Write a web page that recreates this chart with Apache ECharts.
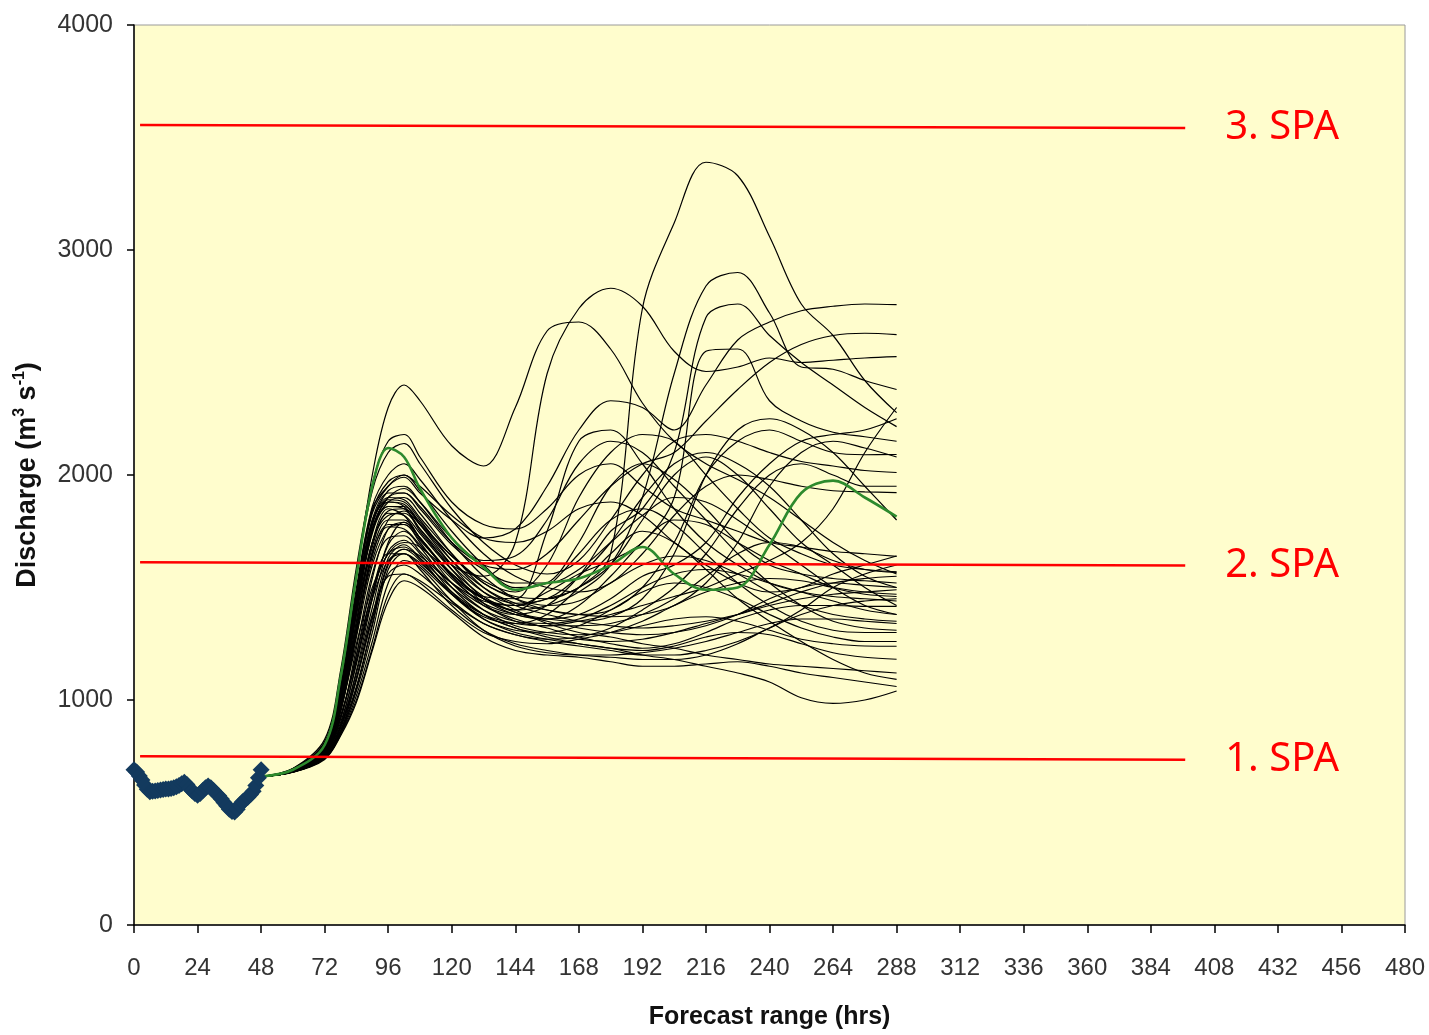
<!DOCTYPE html>
<html>
<head>
<meta charset="utf-8">
<script src="https://cdn.jsdelivr.net/npm/echarts@6/dist/echarts.min.js"></script>
<style>
  html, body { margin: 0; padding: 0; background: #fff; }
  #chart { width: 1429px; height: 1035px; }
</style>
</head>
<body>
<div id="chart"></div>
<script>
// observed discharge, 0-48 h (hourly)
const obsHours = [0, 1, 2, 3, 4, 5, 6, 7, 8, 9, 10, 11, 12, 13, 14, 15, 16, 17, 18, 19, 20, 21, 22, 23, 24,
  25, 26, 27, 28, 29, 30, 31, 32, 33, 34, 35, 36, 37, 38, 39, 40, 41, 42, 43, 44, 45, 46, 47, 48]
const obsValues = [690, 680, 662, 645, 622, 603, 592, 594, 596, 598, 600, 602, 604, 605, 607, 610, 614, 620, 628, 634, 625, 608, 596, 585, 577,
  585, 598, 610, 618, 610, 598, 585, 574, 560, 545, 530, 515, 505, 502, 515, 535, 548, 558, 568, 580, 595, 620, 655, 690]

// ensemble forecast hours
const fcHours = [48, 60, 72, 78, 84, 90, 96, 102, 108, 120, 132, 144, 156, 168, 180, 192, 204, 216, 228, 240, 252, 264, 276, 288]

// control run (green)
const controlRun = [660, 690, 800, 1100, 1550, 1950, 2120, 2080, 1940, 1720, 1590, 1490, 1520, 1540, 1600, 1680, 1560, 1490, 1500, 1690, 1920, 1975, 1900, 1815]

// ensemble members (black)
const members = [
  [660, 695, 810, 1080, 1550, 2000, 2300, 2400, 2330, 2130, 2040, 2300, 2640, 2680, 2560, 2320, 2150, 2050, 1980, 1900, 1800, 1700, 1620, 1560],
  [660, 688, 785, 1000, 1400, 1750, 1880, 1860, 1750, 1600, 1550, 1700, 2450, 2740, 2830, 2750, 2550, 2460, 2480, 2520, 2500, 2510, 2520, 2526],
  [660, 682, 755, 880, 1130, 1450, 1700, 1790, 1720, 1550, 1450, 1420, 1450, 1500, 1650, 2740, 3120, 3390, 3330, 3060, 2760, 2620, 2420, 2277],
  [660, 685, 765, 920, 1200, 1540, 1760, 1790, 1720, 1560, 1450, 1400, 1420, 1480, 1600, 1900, 2450, 2840, 2900, 2720, 2480, 2470, 2420, 2380],
  [660, 683, 762, 915, 1230, 1560, 1720, 1730, 1660, 1520, 1420, 1380, 1420, 1550, 1750, 1850, 2100, 2700, 2760, 2620, 2500, 2400, 2300, 2215],
  [660, 680, 740, 850, 1050, 1330, 1600, 1670, 1640, 1520, 1440, 1420, 1480, 1560, 1620, 1700, 1900, 2550, 2560, 2330, 2240, 2190, 2170, 2150],
  [660, 690, 800, 1050, 1480, 1850, 1950, 1990, 1920, 1800, 1720, 1760, 1950, 2200, 2330, 2300, 2200, 2400, 2600, 2680, 2730, 2750, 2760, 2757],
  [660, 688, 790, 1010, 1420, 1760, 1900, 1920, 1860, 1700, 1600, 1580, 1650, 1800, 1950, 2050, 2100, 2240, 2380, 2500, 2580, 2620, 2630, 2624],
  [660, 696, 825, 1130, 1590, 1960, 2150, 2180, 2080, 1880, 1780, 1760, 1850, 2000, 2050, 1950, 1850, 1800, 1750, 1700, 1680, 1660, 1650, 1638],
  [660, 694, 815, 1100, 1560, 1930, 2100, 2140, 2050, 1850, 1700, 1600, 1560, 1620, 1800, 2000, 2150, 2180, 2150, 2100, 2060, 2040, 2020, 2011],
  [660, 691, 805, 1060, 1500, 1860, 2000, 2050, 1980, 1800, 1650, 1550, 1500, 1480, 1520, 1650, 1820, 1950, 2000, 1980, 1950, 1930, 1925, 1922],
  [660, 690, 798, 1040, 1470, 1840, 1970, 2000, 1930, 1750, 1600, 1500, 1520, 1700, 1950, 2050, 1980, 1850, 1700, 1600, 1560, 1540, 1530, 1520],
  [660, 689, 792, 1020, 1440, 1790, 1930, 1950, 1880, 1700, 1550, 1450, 1400, 1380, 1400, 1500, 1700, 2000, 2150, 2200, 2150, 2100, 2090, 2091],
  [660, 687, 788, 1005, 1410, 1760, 1880, 1900, 1830, 1650, 1500, 1420, 1380, 1350, 1330, 1320, 1330, 1350, 1380, 1420, 1450, 1470, 1480, 1490],
  [660, 688, 790, 1015, 1430, 1780, 1890, 1880, 1800, 1620, 1480, 1400, 1340, 1300, 1280, 1250, 1230, 1200, 1180, 1160, 1150, 1140, 1130, 1120],
  [660, 687, 786, 1000, 1400, 1760, 1880, 1870, 1780, 1600, 1450, 1380, 1360, 1420, 1550, 1700, 1800, 1780, 1700, 1620, 1560, 1500, 1470, 1460],
  [660, 686, 782, 990, 1380, 1740, 1860, 1850, 1760, 1580, 1430, 1350, 1330, 1330, 1340, 1380, 1450, 1550, 1650, 1700, 1680, 1620, 1580, 1567],
  [660, 685, 775, 960, 1330, 1700, 1850, 1820, 1720, 1550, 1420, 1360, 1320, 1280, 1250, 1230, 1250, 1300, 1360, 1400, 1420, 1420, 1416, 1416],
  [660, 685, 772, 955, 1310, 1660, 1800, 1800, 1720, 1560, 1450, 1400, 1500, 1650, 1800, 1850, 1780, 1650, 1520, 1420, 1350, 1310, 1300, 1300],
  [660, 684, 768, 945, 1290, 1640, 1780, 1780, 1700, 1520, 1400, 1330, 1300, 1290, 1300, 1330, 1360, 1370, 1350, 1310, 1270, 1250, 1240, 1239],
  [660, 683, 760, 900, 1160, 1460, 1690, 1750, 1680, 1500, 1380, 1320, 1280, 1250, 1230, 1200, 1180, 1150, 1120, 1080, 1010, 985, 1000, 1040],
  [660, 682, 756, 885, 1120, 1410, 1660, 1710, 1650, 1480, 1360, 1300, 1270, 1250, 1230, 1220, 1240, 1280, 1300, 1290, 1250, 1210, 1190, 1181],
  [660, 681, 752, 875, 1090, 1370, 1630, 1690, 1630, 1470, 1360, 1310, 1300, 1330, 1400, 1480, 1520, 1500, 1450, 1380, 1320, 1280, 1260, 1260],
  [660, 681, 750, 865, 1060, 1340, 1610, 1670, 1620, 1470, 1370, 1340, 1380, 1500, 1650, 1750, 1700, 1580, 1450, 1350, 1260, 1180, 1120, 1092],
  [660, 681, 752, 890, 1170, 1480, 1650, 1650, 1580, 1420, 1310, 1250, 1220, 1200, 1190, 1180, 1180, 1200, 1250, 1320, 1380, 1420, 1440, 1450],
  [660, 680, 742, 850, 1020, 1260, 1520, 1620, 1590, 1440, 1310, 1240, 1210, 1200, 1200, 1210, 1230, 1260, 1300, 1340, 1360, 1360, 1350, 1340],
  [660, 679, 736, 840, 990, 1220, 1440, 1530, 1500, 1390, 1280, 1220, 1200, 1190, 1170, 1150, 1150, 1160, 1170, 1150, 1120, 1100, 1080, 1060],
  [660, 680, 742, 860, 1090, 1360, 1550, 1560, 1520, 1400, 1300, 1260, 1250, 1270, 1300, 1350, 1420, 1480, 1520, 1540, 1530, 1500, 1480, 1470],
  [660, 686, 776, 970, 1350, 1700, 1820, 1830, 1760, 1600, 1480, 1430, 1450, 1550, 1700, 1900, 2050, 2100, 2050, 1950, 1800, 1650, 1550, 1500],
  [660, 684, 770, 950, 1300, 1650, 1770, 1760, 1690, 1540, 1430, 1380, 1360, 1380, 1450, 1550, 1600, 1700, 1900, 2050, 2150, 2180, 2200, 2250],
  [660, 689, 793, 1025, 1450, 1800, 1900, 1940, 1880, 1720, 1620, 1640, 1800, 2050, 2150, 2100, 1950, 1800, 1650, 1520, 1420, 1350, 1320, 1310],
  [660, 690, 800, 1045, 1470, 1830, 1950, 2000, 1950, 1820, 1720, 1700, 1750, 1850, 1880, 1820, 1700, 1600, 1520, 1480, 1500, 1560, 1600, 1640],
  [660, 687, 784, 995, 1390, 1750, 1860, 1860, 1790, 1640, 1520, 1450, 1420, 1440, 1520, 1600, 1640, 1620, 1560, 1480, 1420, 1380, 1360, 1350],
  [660, 684, 775, 960, 1250, 1500, 1650, 1700, 1680, 1560, 1460, 1450, 1750, 2150, 2200, 2050, 1850, 1700, 1600, 1520, 1480, 1460, 1450, 1440],
  [660, 686, 780, 980, 1320, 1620, 1800, 1840, 1780, 1640, 1530, 1480, 1600, 1900, 2100, 2180, 2150, 2000, 1850, 1720, 1650, 1600, 1580, 1570],
  [660, 683, 765, 930, 1180, 1450, 1620, 1650, 1600, 1470, 1380, 1340, 1330, 1350, 1380, 1420, 1460, 1500, 1560, 1620, 1700, 1850, 2100, 2300],
  [660, 687, 790, 1000, 1380, 1700, 1840, 1850, 1780, 1620, 1500, 1430, 1400, 1380, 1370, 1380, 1420, 1520, 1700, 1950, 2100, 2150, 2120, 2080],
  [660, 681, 750, 880, 1100, 1380, 1560, 1600, 1560, 1440, 1340, 1290, 1270, 1280, 1320, 1400, 1500, 1650, 1850, 2000, 2050, 2000, 1950, 1950],
  [660, 685, 778, 965, 1280, 1600, 1760, 1780, 1710, 1560, 1450, 1390, 1360, 1350, 1370, 1450, 1650, 2000, 2200, 2250, 2200, 2100, 1950, 1800],
  [660, 688, 792, 1020, 1420, 1780, 1900, 1890, 1810, 1650, 1520, 1460, 1450, 1500, 1600, 1800, 2000, 2080, 2000, 1850, 1700, 1600, 1500, 1420],
  [660, 681, 748, 860, 1040, 1300, 1580, 1650, 1610, 1480, 1380, 1320, 1290, 1270, 1260, 1270, 1300, 1340, 1380, 1430, 1480, 1520, 1540, 1550],
  [660, 679, 740, 845, 1000, 1230, 1470, 1560, 1530, 1430, 1340, 1290, 1260, 1240, 1220, 1200, 1200, 1220, 1260, 1320, 1400, 1500, 1560, 1600],
  [660, 689, 796, 1030, 1440, 1800, 1920, 1920, 1850, 1690, 1580, 1520, 1520, 1580, 1700, 1820, 1900, 1880, 1800, 1700, 1600, 1500, 1420, 1380],
  [660, 683, 763, 920, 1200, 1480, 1650, 1680, 1630, 1500, 1400, 1350, 1340, 1360, 1420, 1500, 1560, 1580, 1560, 1520, 1480, 1440, 1400, 1380],
  [660, 686, 782, 985, 1350, 1680, 1830, 1820, 1740, 1580, 1460, 1390, 1350, 1320, 1300, 1290, 1300, 1330, 1380, 1450, 1500, 1520, 1510, 1500]
]

// SPA alarm levels: start and end points [hour, value]
const spaNames = ['1. SPA', '2. SPA', '3. SPA']
const spaStart = [[2.3, 750], [2.3, 1612], [2.3, 3556]]
const spaEnd = [[397, 735], [397, 1598], [397, 3542]]

const xTicks = { min: 0, max: 480, interval: 24 }
const yTicks = { min: 0, max: 4000, interval: 1000 }

const chart = echarts.init(document.getElementById('chart'))
const sans = '"Liberation Sans", Arial, sans-serif'

const series = []
members.forEach((m, k) => {
  series.push({
    name: 'member' + k,
    type: 'line',
    data: fcHours.map((h, i) => [h, m[i]]),
    showSymbol: false,
    smooth: 0.35,
    lineStyle: { color: '#000', width: 1.2 },
    z: 2
  })
})
series.push({
  name: 'control',
  type: 'line',
  data: fcHours.map((h, i) => [h, controlRun[i]]),
  showSymbol: false,
  smooth: 0.35,
  lineStyle: { color: '#2d8a2d', width: 2.6 },
  z: 3
})
series.push({
  name: 'observed',
  type: 'line',
  data: obsHours.map((h, i) => [h, obsValues[i]]),
  symbol: 'diamond',
  symbolSize: 17,
  showSymbol: true,
  itemStyle: { color: '#133a5e' },
  lineStyle: { color: '#133a5e', width: 5 },
  z: 4
})
spaNames.forEach((name, k) => {
  series.push({
    name: name,
    type: 'line',
    data: [spaStart[k], spaEnd[k]],
    showSymbol: false,
    lineStyle: { color: '#ff0000', width: 2.5 },
    endLabel: {
      show: true,
      formatter: name,
      color: '#ff0000',
      fontSize: 40,
      fontFamily: '"Noto Sans", "Open Sans", sans-serif',
      distance: 40
    },
    z: 5
  })
})

const option = {
  animation: false,
  backgroundColor: '#fff',
  grid: {
    left: 134,
    right: 24,
    top: 25,
    bottom: 109,
    show: true,
    backgroundColor: '#fffdcd',
    borderColor: '#9a9a9a',
    borderWidth: 1
  },
  xAxis: {
    type: 'value',
    min: xTicks.min,
    max: xTicks.max,
    interval: xTicks.interval,
    name: 'Forecast range (hrs)',
    nameLocation: 'middle',
    nameGap: 80,
    nameTextStyle: { fontFamily: sans, fontSize: 25, fontWeight: 'bold', color: '#111' },
    axisLine: { show: true, lineStyle: { color: '#000', width: 1.5 } },
    axisTick: { show: true, length: 8, lineStyle: { color: '#000', width: 1.5 } },
    axisLabel: { fontFamily: sans, fontSize: 24, color: '#333', margin: 31 },
    splitLine: { show: false }
  },
  yAxis: {
    type: 'value',
    min: yTicks.min,
    max: yTicks.max,
    interval: yTicks.interval,
    name: '{b|Discharge (m}{s|3}{b| s}{s|-1}{b|)}',
    nameLocation: 'middle',
    nameGap: 90,
    nameRotate: 90,
    nameTextStyle: {
      rich: {
        b: { fontFamily: sans, fontSize: 27, fontWeight: 'bold', color: '#111', lineHeight: 32 },
        s: { fontFamily: sans, fontSize: 16, fontWeight: 'bold', color: '#111', lineHeight: 16, verticalAlign: 'top' }
      }
    },
    axisLine: { show: true, lineStyle: { color: '#000', width: 1.5 } },
    axisTick: { show: true, length: 7, lineStyle: { color: '#000', width: 1.5 } },
    axisLabel: { fontFamily: sans, fontSize: 25, color: '#333', margin: 21, formatter: v => String(v) },
    splitLine: { show: false }
  },
  series: series
}

chart.setOption(option)
</script>
</body>
</html>
